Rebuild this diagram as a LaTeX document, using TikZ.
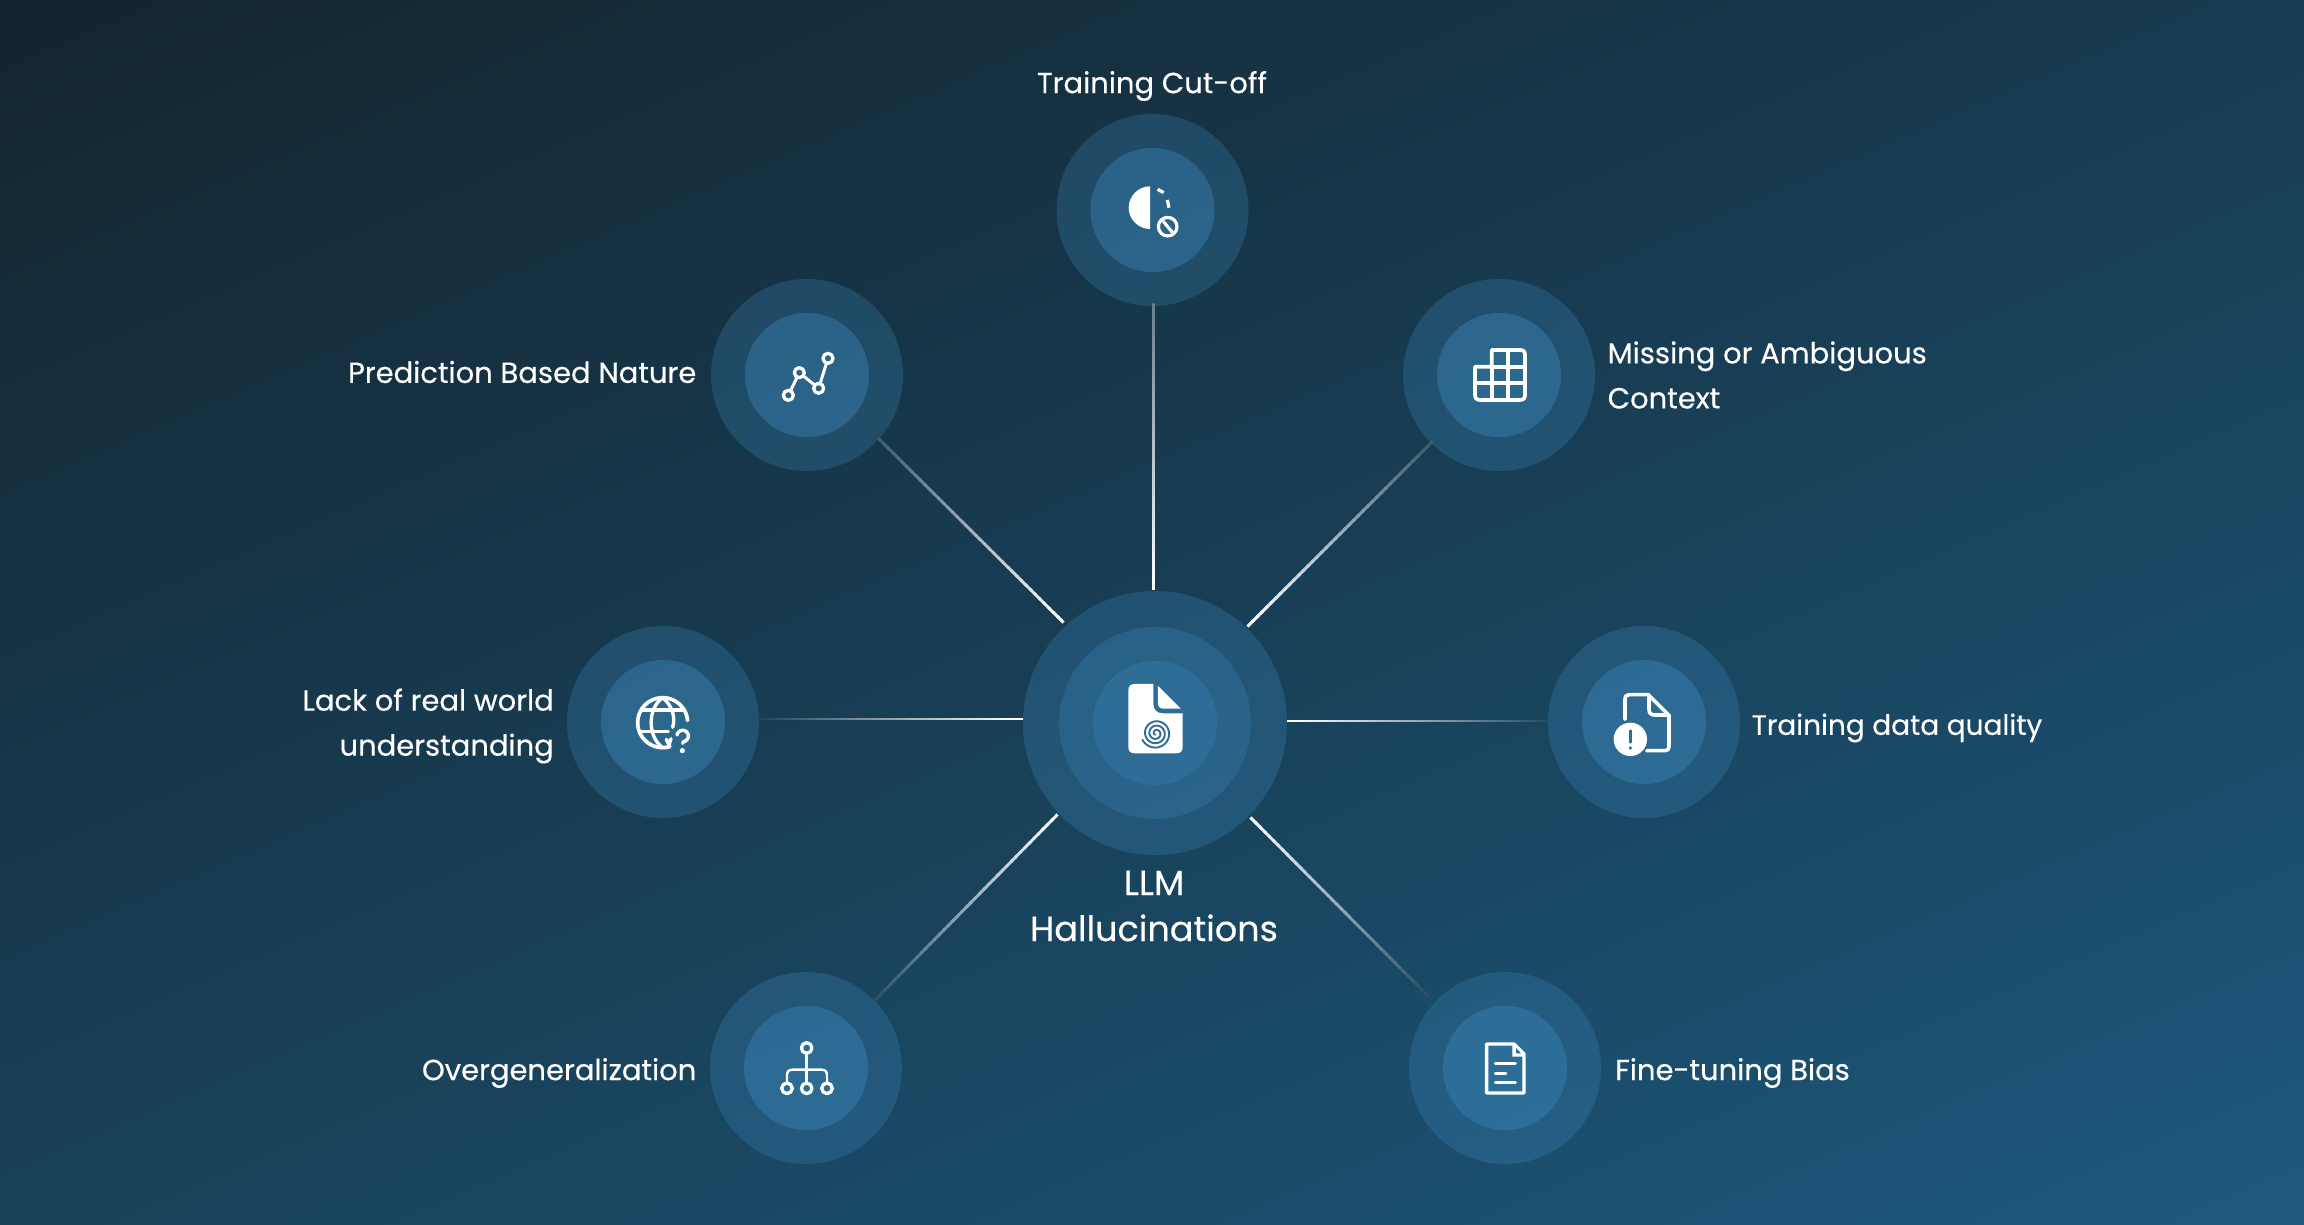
\documentclass[tikz,border=0pt]{standalone}
\usepackage{fontspec}
\setmainfont{Poppins}[FakeBold=0.35]
\usetikzlibrary{calc}
\definecolor{bgA}{HTML}{13242E}
\definecolor{bgB}{HTML}{1D587C}
\definecolor{ringc}{HTML}{3E8BC0}
\definecolor{hole}{HTML}{2E6D96}
\definecolor{lbgA}{HTML}{173A4F}
\definecolor{lbgB}{HTML}{173A50}
\definecolor{lbgC}{HTML}{183E55}
\definecolor{lbgD}{HTML}{183E55}
\definecolor{lbgE}{HTML}{19435D}
\definecolor{lbgF}{HTML}{19435D}
\definecolor{lbgG}{HTML}{1A4763}
\tikzset{
  ring/.style={circle,inner sep=0pt,fill=ringc,fill opacity=#1,draw=none},
  lab/.style={text=white,font=\fontsize{29}{45}\selectfont,inner sep=0pt},
  ic/.style={draw=white,line width=2.8pt,line cap=round,line join=round},
  zoomed/.style={x=0.3333pt,y=-0.3333pt}
}
\newcommand\arcz[5]{plot[domain=#4:#5,samples=50,variable=\t] ({#1+#3*cos(\t)},{#2+#3*sin(\t)})}
% from a (centre end) to b (far end), whiteness at b, local background
\newcommand\fadeconn[4]{%
  \foreach \i in {39,38,...,0}{%
    \pgfmathsetmacro\p{100-(100-#3)*\i/39}%
    \pgfmathsetmacro\u{\i/40}%
    \pgfmathsetmacro\v{(\i+1.4)/40}%
    \draw[line width=2.9pt,draw={white!\p!#4}] ($(#1)!\u!(#2)$) -- ($(#1)!\v!(#2)$);
  }%
}
\newcommand\sat[3]{%
  \node[ring=0.27,minimum size=192pt] (#1) at (#2,#3) {};
  \node[ring=0.38,minimum size=124pt] (#1i) at (#2,#3) {};
}
\begin{document}
\begin{tikzpicture}[x=1pt,y=-1pt]
\useasboundingbox (0,0) rectangle (2304,1224);
\begin{scope}
  \clip (0,0) rectangle (2304,1224);
  \shade[transform canvas={rotate around={23.4:(1152,612)}},top color=bgA,bottom color=bgB] (-1500,-408) rectangle (3804,1632);
\end{scope}
% nodes
\node[ring=0.27,minimum size=264pt] (ctr) at (1155,723) {};
\node[ring=0.27,minimum size=192pt] (ctrm) at (1155,723) {};
\node[ring=0.27,minimum size=124pt] (ctri) at (1155,723) {};
\sat{cut}{1152.5}{210}
\sat{pred}{807}{375}
\sat{miss}{1499}{375}
\sat{lack}{663}{722}
\sat{qual}{1644}{722}
\sat{over}{806}{1068}
\sat{fine}{1505}{1068}
% connector ends
\coordinate (a1) at ([shift={(-1.5,-1)}]ctr.north);
\coordinate (b1) at ([shift={(1,0)}]cut.south);
\coordinate (a2) at ([shift={(2,-7)}]ctr.135);
\coordinate (b2) at ([shift={(5,-3)}]pred.-45);
\coordinate (a3) at ([shift={(-1,-3)}]ctr.45);
\coordinate (b3) at (miss.225);
\coordinate (a4) at ([shift={(0,-4)}]ctr.west);
\coordinate (b4) at ([shift={(0,-3)}]lack.east);
\coordinate (a5) at ([shift={(0,-2)}]ctr.east);
\coordinate (b5) at ([shift={(0,-1)}]qual.west);
\coordinate (a6) at ([shift={(-4,-2)}]ctr.225);
\coordinate (b6) at ([shift={(3,-2)}]over.45);
\coordinate (a7) at ([shift={(2,1)}]ctr.-45);
\coordinate (b7) at ([shift={(-7,-2)}]fine.135);
\fadeconn{a1}{b1}{35}{lbgA}
\fadeconn{a2}{b2}{18}{lbgB}
\fadeconn{a3}{b3}{15}{lbgC}
\fadeconn{a4}{b4}{4}{lbgD}
\fadeconn{a5}{b5}{6}{lbgE}
\fadeconn{a6}{b6}{8}{lbgF}
\fadeconn{a7}{b7}{3}{lbgG}
% labels
\node[lab] (tcut) at (1152,86) {Training Cut-off};
\node[lab,anchor=east] (tpred) at (696.5,372) {Prediction Based Nature};
\node[lab,anchor=west,align=left] (tmiss) at (1607.5,375) {Missing or Ambiguous\\Context};
\node[lab,anchor=east,align=right] (tlack) at (554,726) {Lack of real world\\understanding};
\node[lab,anchor=west,font=\fontsize{28}{45}\selectfont] (tqual) at (1751.5,728) {Training data quality};
\node[lab,anchor=east] (tover) at (696.5,1073) {Overgeneralization};
\node[lab,anchor=west] (tfine) at (1615,1073) {Fine-tuning Bias};
\node[lab,align=center,font=\fontsize{35}{46}\selectfont] (tctr) at (1154,906) {LLM\\Hallucinations};
% centre icon
\begin{scope}[shift={(1000,560)},zoomed]
  \fill[white] (460,372) -- (460,430) .. controls (460,450) and (470,460) .. (490,460) -- (548,460) -- (548,560) .. controls (548,574) and (542,580) .. (528,580) -- (405,580) .. controls (391,580) and (385,574) .. (385,560) -- (385,392) .. controls (385,378) and (391,372) .. (405,372) -- cycle;
  \fill[white] (474,378) -- (542,446) -- (490,446) .. controls (480,446) and (474,440) .. (474,430) -- cycle;
  \draw[draw=hole,line width=1.9pt,line cap=round] plot[domain=120:1235,samples=150,variable=\t] ({468+0.0365*\t*cos(\t)},{520+0.0365*\t*sin(\t)});
\end{scope}
% training cut-off icon
\begin{scope}[shift={(1060,110)},zoomed]
  \fill[white] (270,229) .. controls (235,229) and (206,258) .. (206,293) .. controls (206,328) and (235,357) .. (270,357) -- cycle;
  \draw[ic,line width=3.2pt,line cap=butt] (293,238) -- (311,248);
  \draw[ic,line width=3.2pt,line cap=butt] (322,270) -- (327,293);
  \draw[ic,line width=3.2pt] (323,350) circle[radius=9.3pt];
  \draw[ic,line width=3.2pt,line cap=butt] (309,333) -- (337,367);
\end{scope}
% prediction icon
\begin{scope}[shift={(710,280)},zoomed]
  \draw[ic,line width=3.3pt] (235,346) circle[radius=5pt];
  \draw[ic,line width=3.3pt] (268,278) circle[radius=5pt];
  \draw[ic,line width=3.3pt] (326,325) circle[radius=5pt];
  \draw[ic,line width=3.3pt] (354,235) circle[radius=5pt];
  \draw[ic,line width=3pt,line cap=butt,shorten <=5pt,shorten >=5pt] (235,346) -- (268,278);
  \draw[ic,line width=3pt,line cap=butt,shorten <=5pt,shorten >=5pt] (268,278) -- (326,325);
  \draw[ic,line width=3pt,line cap=butt,shorten <=5pt,shorten >=5pt] (326,325) -- (354,235);
\end{scope}
% grid icon
\begin{scope}[shift={(1405,280)},zoomed]
  \draw[ic,line width=3.7pt] (210,260) -- (260,260) -- (260,210) -- (345,210) .. controls (355,210) and (360,215) .. (360,225) -- (360,345) .. controls (360,355) and (355,360) .. (345,360) -- (225,360) .. controls (215,360) and (210,355) .. (210,345) -- cycle;
  \draw[ic,line width=3.7pt,line cap=butt] (210,310) -- (360,310);
  \draw[ic,line width=3.7pt,line cap=butt] (260,260) -- (360,260);
  \draw[ic,line width=3.7pt,line cap=butt] (260,260) -- (260,360);
  \draw[ic,line width=3.7pt,line cap=butt] (310,210) -- (310,360);
\end{scope}
% globe icon
\begin{scope}[shift={(570,630)},zoomed]
  \draw[ic,line width=3.7pt] \arcz{278}{278}{75}{-287}{-5};
  \draw[ic,line width=3.4pt] (278,203) .. controls (232,235) and (232,320) .. (278,353);
  \draw[ic,line width=3.4pt] (278,203) .. controls (305,225) and (318,260) .. (308,292);
  \draw[ic,line width=3.4pt] (215,240) -- (342,240);
  \draw[ic,line width=3.4pt] (215,305) -- (295,305);
  \draw[ic,line width=3.4pt] (289,328) -- (297,345) -- (303,326);
  \draw[ic,line width=3.4pt] \arcz{338}{318}{17}{-170}{80} -- (338,340);
  \fill[white] (337,362) circle[radius=2.6pt];
\end{scope}
% data quality icon
\begin{scope}[shift={(1550,630)},zoomed]
  \draw[ic,line width=3.6pt] (225,268) -- (225,208) .. controls (225,198) and (230,194) .. (238,194) -- (295,194) -- (357,256) -- (357,350) .. controls (357,358) and (353,362) .. (345,362) -- (290,362);
  \draw[ic,line width=3.6pt] (297,196) -- (297,238) .. controls (297,250) and (303,255) .. (315,255) -- (356,255);
  \fill[white] (241,328) circle[radius=16.7pt];
  \draw[draw=hole,line width=2.6pt,line cap=round] (241,302) -- (241,337);
  \fill[hole] (241,354) circle[radius=1.8pt];
\end{scope}
% hierarchy icon
\begin{scope}[shift={(710,975)},zoomed]
  \draw[ic,line width=3.3pt] (290,219) circle[radius=5.3pt];
  \draw[ic,line width=3.3pt] (231,340) circle[radius=5.3pt];
  \draw[ic,line width=3.3pt] (290,340) circle[radius=5.3pt];
  \draw[ic,line width=3.3pt] (351,340) circle[radius=5.3pt];
  \draw[ic,line width=2.4pt,line cap=butt] (290,237) -- (290,322);
  \draw[ic,line width=2.4pt,line cap=butt] (231,322) -- (231,300) .. controls (231,290) and (237,284) .. (247,284) -- (335,284) .. controls (345,284) and (351,290) .. (351,300) -- (351,322);
\end{scope}
% document icon
\begin{scope}[shift={(1410,975)},zoomed]
  \draw[ic,line width=3.4pt] (236,207) -- (312,207) -- (342,237) -- (342,354) -- (230,354) -- (230,207) -- cycle;
  \fill[white] (307,207) -- (345,245) -- (307,245) -- cycle;
  \fill[hole] (318,219) -- (333,235) -- (318,235) -- cycle;
  \draw[ic,line width=2.9pt] (256,266) -- (316,266);
  \draw[ic,line width=2.9pt] (256,295) -- (288,295);
  \draw[ic,line width=2.9pt] (256,323) -- (316,323);
\end{scope}
\end{tikzpicture}
\end{document}
